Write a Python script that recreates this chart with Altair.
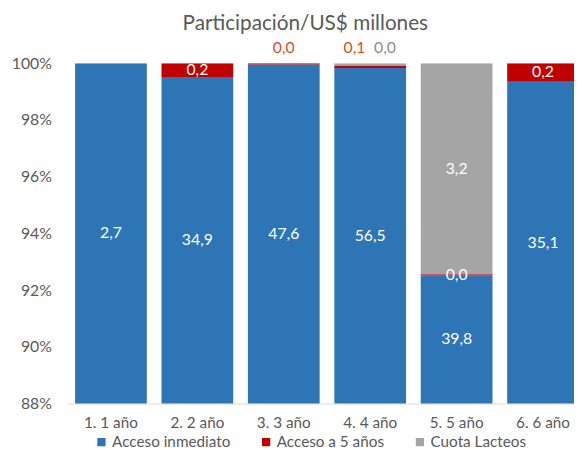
import altair as alt
import pandas as pd

categorias = ["1. 1 año", "2. 2 año", "3. 3 año", "4. 4 año", "5. 5 año", "6. 6 año"]
series = ["Acceso inmediato", "Acceso a 5 años", "Cuota Lacteos"]
acceso_inmediato = [2.7, 34.9, 47.6, 56.5, 39.8, 35.1]
acceso_5_anios = [0.0, 0.17, 0.02, 0.05, 0.02, 0.23]
cuota_lacteos = [0.0, 0.0, 0.0, 0.045, 3.2, 0.0]
colores = ["#2E75B6", "#C00000", "#A5A5A5"]

# labels drawn above the bar (tiny segments at the top)
fuera = {
    ("3. 3 año", "Acceso a 5 años"): "arriba",
    ("4. 4 año", "Acceso a 5 años"): "arriba_izq",
    ("4. 4 año", "Cuota Lacteos"): "arriba_der",
}

FONT = "Lato"
Y0 = 0.88

rows = []
valores = [acceso_inmediato, acceso_5_anios, cuota_lacteos]
for i, cat in enumerate(categorias):
    total = sum(v[i] for v in valores)
    cum = 0.0
    for k, s in enumerate(series):
        v = valores[k][i]
        start = cum / total
        cum += v
        end = cum / total
        lo = max(start, Y0)
        hi = min(end, 1.0)
        rows.append({
            "cat": cat, "serie": s, "orden": k, "valor": v,
            "inicio": start, "fin": end, "medio": (lo + hi) / 2,
            "tope": 1.0,
            "etiqueta": f"{v:.1f}".replace(".", ","),
            "lugar": fuera.get((cat, s), "dentro"),
        })
df = pd.DataFrame(rows)
etiquetas = df[df["valor"] > 0]

x_enc = alt.X("cat:N", sort=categorias,
              scale=alt.Scale(range=[0, 525], paddingInner=0.17, paddingOuter=0.08),
              axis=alt.Axis(title=None, labelAngle=0, labelFont=FONT, labelFontSize=15.5,
                            labelColor="#595959", labelPadding=12, ticks=False,
                            domainColor="#D9D9D9", domainWidth=1.2))
y_scale = alt.Scale(domain=[Y0, 1.0], nice=False, zero=False)

barras = alt.Chart(df).mark_bar(clip=True).encode(
    x=x_enc,
    y=alt.Y("inicio:Q", scale=y_scale,
            axis=alt.Axis(title=None, format=".0%", values=[0.88, 0.90, 0.92, 0.94, 0.96, 0.98, 1.0],
                          labelFont=FONT, labelFontSize=16, labelColor="#595959",
                          grid=False, domain=False, ticks=False, labelPadding=17)),
    y2="fin:Q",
    color=alt.Color("serie:N", sort=series,
                    scale=alt.Scale(domain=series, range=colores),
                    legend=alt.Legend(title=None, orient="none", direction="horizontal",
                                      legendX=26, legendY=376, symbolType="square",
                                      symbolSize=70, symbolStrokeWidth=0,
                                      labelFont=FONT, labelFontSize=15.5, labelColor="#595959",
                                      columnPadding=28, labelOffset=3)),
    order=alt.Order("orden:Q"),
)

dentro = alt.Chart(etiquetas).transform_filter(alt.datum.lugar == "dentro").mark_text(
    color="white", font=FONT, fontSize=16, baseline="middle"
).encode(x=alt.X("cat:N", sort=categorias), y=alt.Y("medio:Q"), text="etiqueta:N")

def arriba(lugar, color, dx):
    return alt.Chart(etiquetas).transform_filter(alt.datum.lugar == lugar).mark_text(
        color=color, font=FONT, fontSize=16, baseline="middle", dx=dx, dy=-15
    ).encode(x=alt.X("cat:N", sort=categorias), y=alt.Y("tope:Q"), text="etiqueta:N")

chart = alt.layer(
    barras, dentro,
    arriba("arriba", "#E04B1E", 0),
    arriba("arriba_izq", "#E04B1E", -16),
    arriba("arriba_der", "#8C8C8C", 15),
).properties(
    width=513, height=345,
    title=alt.TitleParams("Participación/US$ millones", font=FONT, fontSize=21,
                          fontWeight="normal", color="#595959", offset=7, dx=-16),
    autosize=alt.AutoSizeParams(type="none"),
    padding={"left": 61, "top": 53, "right": 0, "bottom": 44},
).configure_view(stroke=None)

chart.save("out.html", embed_options={"renderer": "svg", "actions": False})
